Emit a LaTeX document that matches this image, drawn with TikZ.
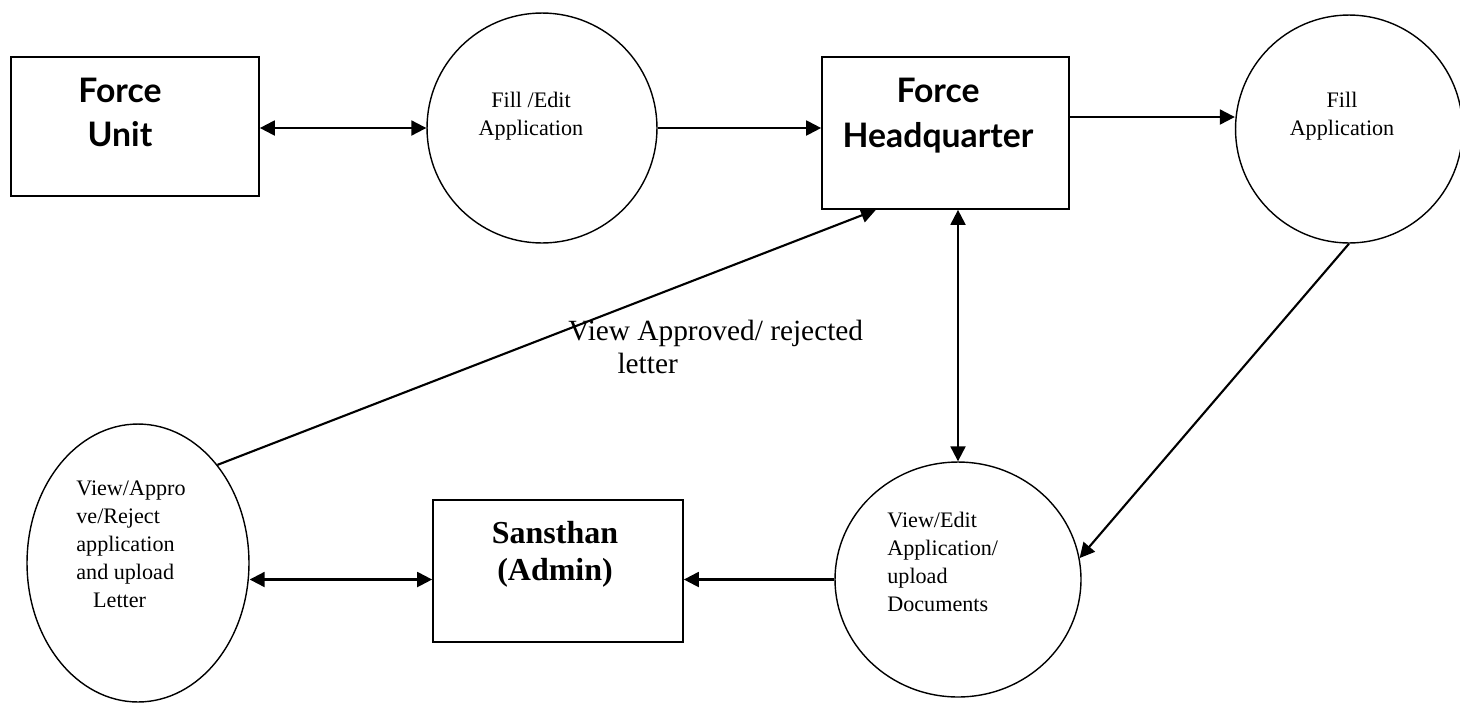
\documentclass[tikz,border=0pt]{standalone}
\usepackage{fontspec}
\setmainfont{Liberation Serif}
\newfontfamily\gillfont{Lato}
\usetikzlibrary{arrows.meta,shapes.geometric,calc}

\begin{document}
\begin{tikzpicture}[x=.02cm,y=-.02cm,
  entity/.style={draw,line width=1pt,rectangle,inner sep=0pt},
  process/.style={draw,line width=.8pt,ellipse,inner sep=0pt},
  flow/.style={line width=1.2pt,-{Triangle[length=8.5pt,width=8.5pt]}},
  twoway/.style={line width=1.2pt,{Triangle[length=8.5pt,width=8.5pt]}-{Triangle[length=8.5pt,width=8.5pt]}},
  small/.style={font=\fontsize{12.6}{16}\selectfont,inner sep=0pt},
  boxtext/.style={font=\gillfont\bfseries\fontsize{19.2}{25.5}\selectfont,align=center,inner sep=0pt}]
\useasboundingbox (0,0) rectangle (1460,704);
% boxes
\node[entity,minimum width=4.96cm,minimum height=2.78cm] (unit) at (135,126.5) {};
\node[entity,minimum width=4.94cm,minimum height=3.04cm] (hq) at (945.5,133) {};
\node[entity,minimum width=5cm,minimum height=2.84cm] (sansthan) at (558,571) {};
\node[boxtext] (unittxt) at (120,112.5) {Force\\Unit};
\node[boxtext] (hqtxt) at (938,115.5) {Force\\Headquarter};
\node[inner sep=0pt,align=center,font=\bfseries\fontsize{18.2}{21}\selectfont] (sansthantxt) at (555,554) {Sansthan\\(Admin)};
% processes
\node[process,minimum width=4.6cm,minimum height=4.6cm] (filledit) at (542,128) {};
\node[process,minimum width=4.54cm,minimum height=4.56cm] (fillapp) at (1349,129) {};
\node[process,minimum width=4.44cm,minimum height=5.56cm] (review) at (138,563) {};
\node[process,minimum width=4.92cm,minimum height=4.7cm] (viewedit) at (958,579.5) {};
\node[small,align=center] (filledittxt) at (531,116) {Fill /Edit\\Application};
\node[small,align=center] (fillapptxt) at (1342,116) {Fill\\Application};
\node[small,align=left,anchor=west] (reviewtxt) at (76,544) {View/Appro\\ve/Reject\\application\\and upload\\\hspace*{9.6pt}Letter};
\node[small,align=left,anchor=west] (viewedittxt) at (887,562) {View/Edit\\Application/\\upload\\Documents};
% flows
\draw[twoway] (unit.east |- filledit.west) -- (filledit.west);
\draw[flow] (filledit.east) -- (filledit.east -| hq.west);
\draw[flow] ($(hq.east)+(0,-16)$) -- ($(fillapp.west)+(0,-12)$);
\draw[flow] (fillapp.south) -- (viewedit.10);
\draw[twoway] (viewedit.north |- hq.south) -- (viewedit.north);
\draw[flow] (viewedit.west) -- (viewedit.west -| sansthan.east);
\draw[twoway] (review.east |- viewedit.west) -- (sansthan.west |- viewedit.west);
\draw[flow] (review.51) -- ($(hq.south west)!.22!(hq.south east)$);
\node[inner sep=0pt,align=left,anchor=west,font=\fontsize{16.7}{18.7}\selectfont] (lettertxt) at (568,347) {View Approved/ rejected\\\hspace*{28pt}letter};
\end{tikzpicture}
\end{document}
